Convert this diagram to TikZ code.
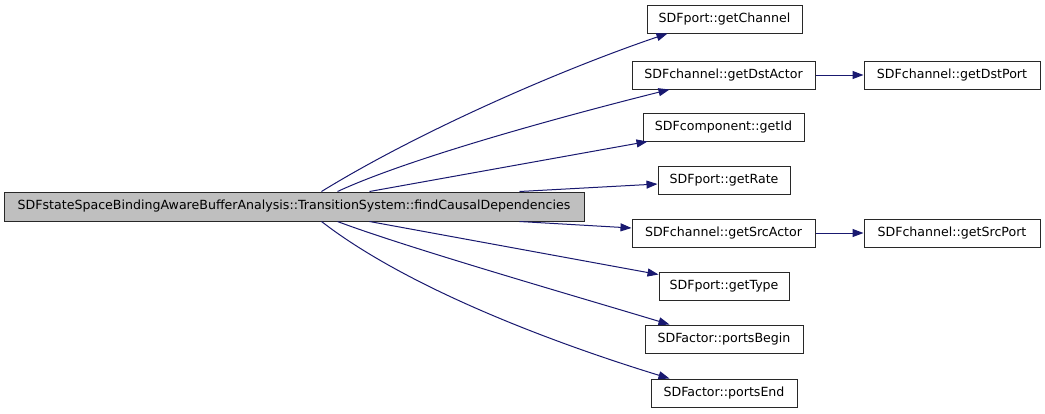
\documentclass[tikz,border=0pt]{standalone}
\usepackage{fontspec}
\setmainfont{DejaVu Sans}
\usetikzlibrary{arrows.meta}
\definecolor{edgeblue}{RGB}{25,25,112}
\definecolor{rootfill}{RGB}{191,191,191}
\definecolor{boxline}{RGB}{40,40,40}
\tikzset{
  fn/.style={draw=boxline, line width=1pt, fill=white, inner sep=0pt,
    minimum height=28pt, font=\fontsize{12.6}{14}\selectfont, text=black},
  call/.style={draw=edgeblue, line width=1pt,
    -{Triangle[length=11pt,width=8pt,fill=edgeblue]}},
}
\begin{document}
\begin{tikzpicture}[x=1pt,y=-1pt]
\useasboundingbox[fill=white] (0,0) rectangle (1045,413);
\node[fn, fill=rootfill, minimum width=580pt, minimum height=29pt] (root) at (294,206.5)
  {SDFstateSpaceBindingAwareBufferAnalysis::TransitionSystem::findCausalDependencies};
\node[fn, minimum width=155pt] (gc)    at (724.5,19)  {SDFport::getChannel};
\node[fn, minimum width=183pt] (gda)   at (723.5,75)  {SDFchannel::getDstActor};
\node[fn, minimum width=161pt] (gid)   at (723.5,127) {SDFcomponent::getId};
\node[fn, minimum width=132pt] (grate) at (724,180)   {SDFport::getRate};
\node[fn, minimum width=183pt] (gsa)   at (723.5,233) {SDFchannel::getSrcActor};
\node[fn, minimum width=130pt] (gtype) at (724,286)   {SDFport::getType};
\node[fn, minimum width=158pt] (pb)    at (724,339)   {SDFactor::portsBegin};
\node[fn, minimum width=146pt] (pe)    at (724,393)   {SDFactor::portsEnd};
\node[fn, minimum width=176pt] (gdp)   at (952,75)    {SDFchannel::getDstPort};
\node[fn, minimum width=176pt] (gsp)   at (952,233)   {SDFchannel::getSrcPort};

\draw[call] ([xshift=318pt]root.north west) .. controls (420,131) and (560,70) .. ([xshift=21pt]gc.south west);
\draw[call] ([xshift=334pt]root.north west) .. controls (410,158) and (560,117) .. ([xshift=38pt]gda.south west);
\draw[call] ([xshift=366pt]root.north west) -- ([xshift=5pt]gid.south west);
\draw[call] ([xshift=516pt]root.north west) -- ([yshift=-4pt]grate.west);
\draw[call] ([xshift=516pt]root.south west) -- ([yshift=5pt]gsa.west);
\draw[call] ([xshift=366pt]root.south west) -- ([yshift=-3pt]gtype.north west);
\draw[call] ([xshift=334pt]root.south west) .. controls (405,247) and (575,296) .. ([xshift=25pt]pb.north west);
\draw[call] ([xshift=318pt]root.south west) .. controls (410,290) and (560,345) .. ([xshift=19pt]pe.north west);
\draw[call] (gda) -- (gdp);
\draw[call] (gsa) -- (gsp);
\end{tikzpicture}
\end{document}
